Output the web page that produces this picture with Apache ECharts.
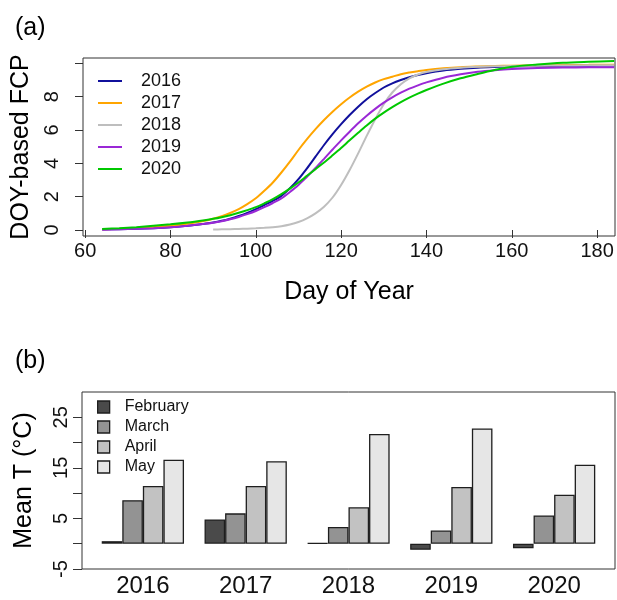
<!DOCTYPE html>
<html>
<head>
<meta charset="utf-8">
<script src="https://cdn.jsdelivr.net/npm/echarts@6/dist/echarts.min.js"></script>
<style>
  html, body { margin: 0; padding: 0; background: #fff; }
  #chart { width: 617px; height: 600px; }
</style>
</head>
<body>
<div id="chart"></div>
<script>
// (a) DOY-based FCP curves
const doy = [64, 68, 72, 76, 80, 84, 88,
  90, 92, 94, 96, 98, 100, 102, 104, 106, 108, 110, 112, 114, 116, 118, 120, 122, 124, 126, 128, 130, 132, 134, 136, 138, 140,
  144, 148, 152, 156, 160, 166, 172, 178, 184];
const fcp2016 = [0.03, 0.05, 0.07, 0.11, 0.17, 0.26, 0.38,
  0.45, 0.55, 0.68, 0.84, 1.03, 1.25, 1.5, 1.75, 2.05, 2.5, 3.05, 3.7, 4.4, 5.1, 5.75, 6.35, 6.9, 7.4, 7.85, 8.22, 8.55, 8.8, 9.0, 9.17, 9.3, 9.41,
  9.57, 9.67, 9.74, 9.78, 9.81, 9.84, 9.85, 9.86, 9.87];
const fcp2017 = [0.05, 0.08, 0.12, 0.18, 0.26, 0.38, 0.56,
  0.68, 0.83, 1.02, 1.25, 1.55, 1.9, 2.35, 2.85, 3.45, 4.1, 4.8, 5.45, 6.05, 6.6, 7.1, 7.55, 7.95, 8.3, 8.6, 8.85, 9.05, 9.2, 9.35, 9.45, 9.53, 9.6,
  9.7, 9.77, 9.81, 9.84, 9.86, 9.88, 9.9, 9.91, 9.92];
const fcp2018 = [null, null, null, null, null, null, null,
  0.03, 0.04, 0.05, 0.06, 0.08, 0.1, 0.13, 0.17, 0.23, 0.33, 0.48, 0.7, 1.0, 1.4, 1.95, 2.7, 3.6, 4.6, 5.65, 6.65, 7.55, 8.25, 8.75, 9.1, 9.33, 9.48,
  9.65, 9.74, 9.79, 9.82, 9.84, 9.86, 9.87, 9.88, 9.88];
const fcp2019 = [0.02, 0.04, 0.07, 0.11, 0.17, 0.26, 0.37,
  0.44, 0.53, 0.64, 0.78, 0.95, 1.14, 1.37, 1.62, 1.9, 2.28, 2.7, 3.2, 3.72, 4.27, 4.83, 5.38, 5.9, 6.4, 6.86, 7.27, 7.64, 7.96, 8.24, 8.48, 8.68, 8.86,
  9.14, 9.34, 9.49, 9.59, 9.66, 9.72, 9.75, 9.76, 9.76];
const fcp2020 = [0.06, 0.11, 0.17, 0.25, 0.34, 0.45, 0.59,
  0.67, 0.77, 0.89, 1.03, 1.19, 1.37, 1.6, 1.85, 2.15, 2.48, 2.85, 3.25, 3.65, 4.05, 4.48, 4.92, 5.38, 5.83, 6.27, 6.68, 7.04, 7.37, 7.67, 7.94, 8.18, 8.4,
  8.78, 9.1, 9.36, 9.6, 9.8, 9.93, 10.03, 10.09, 10.14];
const curveNames = ['2016', '2017', '2018', '2019', '2020'];
const curveColors = ['#10109c', '#ffa500', '#bebebe', '#9a28d6', '#00c800'];
const doyTicks = [60, 80, 100, 120, 140, 160, 180];
const fcpTicks = [0, 2, 4, 6, 8, 10];
const fcpLabels = [0, 2, 4, 6, 8];

// (b) monthly mean temperature
const years = ['2016', '2017', '2018', '2019', '2020'];
const months = ['February', 'March', 'April', 'May'];
const tFeb = [0.5, 4.8, 0.1, -1.2, -0.9];
const tMar = [8.6, 6.0, 3.3, 2.6, 5.6];
const tApr = [11.4, 11.4, 7.2, 11.2, 9.7];
const tMay = [16.6, 16.3, 21.7, 22.8, 15.6];
const monthColors = ['#4a4a4a', '#939393', '#c2c2c2', '#e6e6e6'];
const tTicks = [-5, 0, 5, 10, 15, 20, 25];
const tLabels = [-5, 5, 15, 25];

const FONT = 'Arial, "Liberation Sans", Helvetica, sans-serif';
const fcpSeries = [fcp2016, fcp2017, fcp2018, fcp2019, fcp2020];
const tSeries = [tFeb, tMar, tApr, tMay];

// bar slot on the (b) value axis: each year block holds 4 bars plus one gap
const barSlot = (yearIdx, monthIdx) => yearIdx * 5 + monthIdx + 1.5;
const groupCenters = years.map((_, i) => i * 5 + 3);

const chart = echarts.init(document.getElementById('chart'), null, { renderer: 'canvas' });

const lineSeries = curveNames.map((name, k) => ({
  name: name,
  type: 'line',
  xAxisIndex: 0,
  yAxisIndex: 0,
  data: doy.map((d, i) => [d, fcpSeries[k][i]]),
  showSymbol: false,
  symbol: 'none',
  smooth: 0.3,
  connectNulls: false,
  lineStyle: { color: curveColors[k], width: 2 },
  itemStyle: { color: curveColors[k] },
  z: 2 + k
}));

const barSeries = months.map((name, m) => ({
  name: name,
  type: 'bar',
  xAxisIndex: 1,
  yAxisIndex: 1,
  data: years.map((_, y) => [barSlot(y, m), tSeries[m][y]]),
  barWidth: 20.6,
  barGap: '-100%',
  itemStyle: { color: monthColors[m], borderColor: '#1e1e1e', borderWidth: 1.3 },
  emphasis: { disabled: true }
}));

chart.setOption({
  animation: false,
  backgroundColor: '#ffffff',
  textStyle: { fontFamily: FONT, color: '#000' },
  title: [
    { text: '(a)', left: 10, top: 11, textStyle: { fontFamily: FONT, fontSize: 25, fontWeight: 'normal', color: '#000' } },
    { text: '(b)', left: 10, top: 344, textStyle: { fontFamily: FONT, fontSize: 25, fontWeight: 'normal', color: '#000' } }
  ],
  legend: [
    {
      data: curveNames,
      orient: 'vertical',
      left: 98,
      top: 72,
      padding: 0,
      itemWidth: 24,
      itemHeight: 14,
      itemGap: 4,
      icon: 'path://M0,6 L24,6 L24,8 L0,8 Z',
      textStyle: { fontFamily: FONT, fontSize: 18, color: '#111', padding: [0, 0, 0, 14] },
      selectedMode: false
    },
    {
      data: months,
      orient: 'vertical',
      left: 97,
      top: 399,
      padding: 0,
      itemWidth: 12,
      itemHeight: 12,
      itemGap: 4,
      icon: 'rect',
      itemStyle: { borderColor: '#1e1e1e', borderWidth: 1.3 },
      textStyle: { fontFamily: FONT, fontSize: 16, color: '#111', padding: [0, 0, 0, 10] },
      selectedMode: false
    }
  ],
  grid: [
    { left: 83, top: 58, width: 532, height: 178, show: true, borderColor: '#333', borderWidth: 1, backgroundColor: 'transparent' },
    { left: 82, top: 392, width: 533, height: 177, show: true, borderColor: '#333', borderWidth: 1, backgroundColor: 'transparent' }
  ],
  xAxis: [
    {
      gridIndex: 0,
      type: 'value',
      min: 59.5,
      max: 184.2,
      name: 'Day of Year',
      nameLocation: 'middle',
      nameGap: 44,
      nameTextStyle: { fontFamily: FONT, fontSize: 25, color: '#000' },
      axisLine: { show: false },
      axisTick: { show: true, customValues: doyTicks, length: 8, lineStyle: { color: '#333', width: 1 } },
      axisLabel: { customValues: doyTicks, fontFamily: FONT, fontSize: 20, color: '#111', margin: 5 },
      splitLine: { show: false }
    },
    {
      gridIndex: 1,
      type: 'value',
      min: 0.04,
      max: 25.96,
      axisLine: { show: false },
      axisTick: { show: false },
      axisLabel: {
        customValues: groupCenters,
        formatter: (v) => years[Math.round((v - 3) / 5)],
        fontFamily: FONT, fontSize: 24, color: '#111', margin: 5
      },
      splitLine: { show: false }
    }
  ],
  yAxis: [
    {
      gridIndex: 0,
      type: 'value',
      min: -0.36,
      max: 10.32,
      name: 'DOY-based FCP',
      nameLocation: 'middle',
      nameGap: 46,
      nameTextStyle: { fontFamily: FONT, fontSize: 25, color: '#000' },
      axisLine: { show: false },
      axisTick: { show: true, customValues: fcpTicks, length: 8, lineStyle: { color: '#333', width: 1 } },
      axisLabel: { customValues: fcpLabels, rotate: 90, fontFamily: FONT, fontSize: 20, color: '#111', margin: 21 },
      splitLine: { show: false }
    },
    {
      gridIndex: 1,
      type: 'value',
      min: -5,
      max: 30,
      interval: 5,
      name: 'Mean T (°C)',
      nameLocation: 'middle',
      nameGap: 45,
      nameTextStyle: { fontFamily: FONT, fontSize: 25, color: '#000' },
      axisLine: { show: false },
      axisTick: { show: true, customValues: tTicks, length: 9, lineStyle: { color: '#333', width: 1 } },
      axisLabel: { customValues: tLabels, rotate: 90, fontFamily: FONT, fontSize: 20, color: '#111', margin: 11 },
      splitLine: { show: false }
    }
  ],
  series: lineSeries.concat(barSeries)
});
</script>
</body>
</html>
